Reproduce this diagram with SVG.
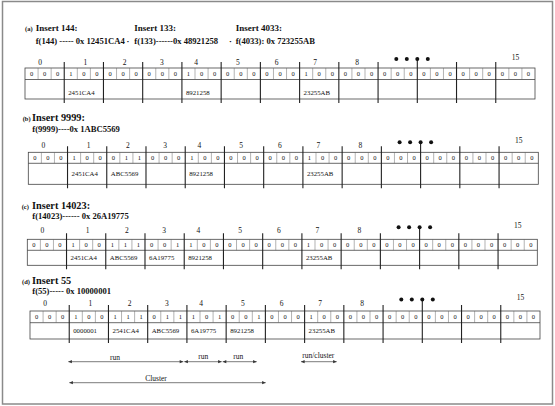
<svg xmlns="http://www.w3.org/2000/svg" width="555" height="406" viewBox="0 0 555 406">
<style>
text{font-family:"Liberation Serif","Times New Roman",serif;fill:#111}
.tag{font-size:6.5px;font-weight:bold}
.hd{font-size:9px;font-weight:bold}
.hd2{font-size:10.3px;font-weight:bold}
.fl{font-size:8.6px;font-weight:bold}
.d text{font-size:6.5px;text-anchor:middle}
.n{font-size:6.8px}
.l{font-size:7.5px;text-anchor:middle}
.box{fill:none;stroke:#444;stroke-width:0.8}
.thin{fill:none;stroke:#666;stroke-width:0.5}
.grp{fill:none;stroke:#222;stroke-width:1.1}
.dot{fill:#111}
.arr{fill:none;stroke:#444;stroke-width:0.7;marker-start:url(#ah);marker-end:url(#ah)}
</style>
<defs>
<marker id="ah" viewBox="0 0 10 10" refX="10" refY="5" markerWidth="5" markerHeight="3.6" orient="auto-start-reverse" markerUnits="userSpaceOnUse"><path d="M0,0.5 L10,5 L0,9.5 z" fill="#333"/></marker>
</defs>
<rect x="2.5" y="1.5" width="550" height="402.5" fill="#fff" stroke="#8a8a8a" stroke-width="1.5"/>

<g id="panel-a">
<text class="tag" x="25" y="31">(a)</text>
<text class="hd" x="35.7" y="31">Insert 144:</text>
<text class="hd" x="134.3" y="31">Insert 133:</text>
<text class="hd" x="235.7" y="31">Insert 4033:</text>
<text class="fl" x="35.7" y="43.5">f(144) ----- 0x 12451CA4</text>
<text class="fl" x="126.5" y="43.5">·</text>
<text class="fl" x="134.3" y="43.5">f(133)------0x 48921258</text>
<text class="fl" x="229" y="43.5">·</text>
<text class="fl" x="235.7" y="43.5">f(4033): 0x 723255AB</text>
<g id="table-a" transform="translate(25,68)">
<rect class="box" x="0" y="0" width="510" height="31"/>
<path class="box" d="M0 11.5H510"/>
<path class="thin" d="M13.08 0V11.5M26.15 0V11.5M52.31 0V11.5M65.38 0V11.5M91.54 0V11.5M104.62 0V11.5M130.77 0V11.5M143.85 0V11.5M170 0V11.5M183.08 0V11.5M209.23 0V11.5M222.31 0V11.5M248.46 0V11.5M261.54 0V11.5M287.69 0V11.5M300.77 0V11.5M326.92 0V11.5M340 0V11.5M366.15 0V11.5M379.23 0V11.5M405.38 0V11.5M418.46 0V11.5M444.62 0V11.5M457.69 0V11.5M483.85 0V11.5M496.92 0V11.5"/>
<path class="grp" d="M39.23 -6V35M78.46 -6V35M117.69 -6V35M156.92 -6V35M196.15 -6V35M235.38 -6V35M274.61 -6V35M313.84 -6V35M353.07 -6V35M392.3 -9V35M431.53 -6V35M470.76 -6V35"/>
<g class="l"><text x="15" y="-3">0</text><text x="60.3" y="-3">1</text><text x="99.6" y="-3">2</text><text x="136.8" y="-3">3</text><text x="171" y="-3">4</text><text x="212.8" y="-3">5</text><text x="251.5" y="-3">6</text><text x="290.2" y="-3">7</text><text x="332.2" y="-3">8</text><text x="490.4" y="-8.5">15</text></g>
<g class="dot"><circle cx="371.3" cy="-9" r="2"/><circle cx="381.8" cy="-9" r="2"/><circle cx="392.3" cy="-9" r="2"/><circle cx="402.8" cy="-9" r="2"/></g>
<g class="d" transform="translate(0,8.1)"><text x="6.54">0</text><text x="19.62">0</text><text x="32.69">0</text><text x="45.77">1</text><text x="58.85">0</text><text x="71.92">0</text><text x="85">0</text><text x="98.08">0</text><text x="111.15">0</text><text x="124.23">0</text><text x="137.31">0</text><text x="150.38">0</text><text x="163.46">1</text><text x="176.54">0</text><text x="189.62">0</text><text x="202.69">0</text><text x="215.77">0</text><text x="228.85">0</text><text x="241.92">0</text><text x="255">0</text><text x="268.08">0</text><text x="281.15">1</text><text x="294.23">0</text><text x="307.31">0</text><text x="320.38">0</text><text x="333.46">0</text><text x="346.54">0</text><text x="359.62">0</text><text x="372.69">0</text><text x="385.77">0</text><text x="398.85">0</text><text x="411.92">0</text><text x="425">0</text><text x="438.08">0</text><text x="451.15">0</text><text x="464.23">0</text><text x="477.31">0</text><text x="490.38">0</text><text x="503.46">0</text></g>
<text class="n" x="43.2" y="27">2451CA4</text>
<text class="n" x="160.9" y="27">8921258</text>
<text class="n" x="278.6" y="27">23255AB</text>
</g>
</g>

<g id="panel-b">
<text class="tag" x="22.7" y="121">(b)</text>
<text class="hd2" x="32" y="121">Insert 9999:</text>
<text class="fl" x="32.3" y="131.5">f(9999)----0x 1ABC5569</text>
<g id="table-b" transform="translate(28.3,152.3)">
<rect class="box" x="0" y="0" width="510" height="32"/>
<path class="box" d="M0 11H510"/>
<path class="thin" d="M13.08 0V11M26.15 0V11M52.31 0V11M65.38 0V11M91.54 0V11M104.62 0V11M130.77 0V11M143.85 0V11M170 0V11M183.08 0V11M209.23 0V11M222.31 0V11M248.46 0V11M261.54 0V11M287.69 0V11M300.77 0V11M326.92 0V11M340 0V11M366.15 0V11M379.23 0V11M405.38 0V11M418.46 0V11M444.62 0V11M457.69 0V11M483.85 0V11M496.92 0V11"/>
<path class="grp" d="M39.23 -6V36M78.46 -6V36M117.69 -6V36M156.92 -6V36M196.15 -6V36M235.38 -6V36M274.61 -6V36M313.84 -6V36M353.07 -6V36M392.3 -10V36M431.53 -6V36M470.76 -6V36"/>
<g class="l"><text x="15" y="-4">0</text><text x="60.3" y="-4">1</text><text x="99.6" y="-4">2</text><text x="136.8" y="-4">3</text><text x="171" y="-4">4</text><text x="212.8" y="-4">5</text><text x="251.5" y="-4">6</text><text x="290.2" y="-4">7</text><text x="332.2" y="-4">8</text><text x="490.4" y="-9.5">15</text></g>
<g class="dot"><circle cx="371.3" cy="-10" r="2"/><circle cx="381.8" cy="-10" r="2"/><circle cx="392.3" cy="-10" r="2"/><circle cx="402.8" cy="-10" r="2"/></g>
<g class="d" transform="translate(0,7.8)"><text x="6.54">0</text><text x="19.62">0</text><text x="32.69">0</text><text x="45.77">1</text><text x="58.85">0</text><text x="71.92">0</text><text x="85">0</text><text x="98.08">1</text><text x="111.15">1</text><text x="124.23">0</text><text x="137.31">0</text><text x="150.38">0</text><text x="163.46">1</text><text x="176.54">0</text><text x="189.62">0</text><text x="202.69">0</text><text x="215.77">0</text><text x="228.85">0</text><text x="241.92">0</text><text x="255">0</text><text x="268.08">0</text><text x="281.15">1</text><text x="294.23">0</text><text x="307.31">0</text><text x="320.38">0</text><text x="333.46">0</text><text x="346.54">0</text><text x="359.62">0</text><text x="372.69">0</text><text x="385.77">0</text><text x="398.85">0</text><text x="411.92">0</text><text x="425">0</text><text x="438.08">0</text><text x="451.15">0</text><text x="464.23">0</text><text x="477.31">0</text><text x="490.38">0</text><text x="503.46">0</text></g>
<text class="n" x="43.2" y="24">2451CA4</text>
<text class="n" x="82.5" y="24">ABC5569</text>
<text class="n" x="160.9" y="24">8921258</text>
<text class="n" x="278.6" y="24">23255AB</text>
</g>
</g>

<g id="panel-c">
<text class="tag" x="21.7" y="208.5">(c)</text>
<text class="hd2" x="32" y="208.5">Insert 14023:</text>
<text class="fl" x="32.3" y="219">f(14023)------ 0x 26A19775</text>
<g id="table-c" transform="translate(27.3,239.3)">
<rect class="box" x="0" y="0" width="510" height="26"/>
<path class="box" d="M0 11H510"/>
<path class="thin" d="M13.08 0V11M26.15 0V11M52.31 0V11M65.38 0V11M91.54 0V11M104.62 0V11M130.77 0V11M143.85 0V11M170 0V11M183.08 0V11M209.23 0V11M222.31 0V11M248.46 0V11M261.54 0V11M287.69 0V11M300.77 0V11M326.92 0V11M340 0V11M366.15 0V11M379.23 0V11M405.38 0V11M418.46 0V11M444.62 0V11M457.69 0V11M483.85 0V11M496.92 0V11"/>
<path class="grp" d="M39.23 -6V30M78.46 -6V30M117.69 -6V30M156.92 -6V30M196.15 -6V30M235.38 -6V30M274.61 -6V30M313.84 -6V30M353.07 -6V30M392.3 -12V30M431.53 -6V30M470.76 -6V30"/>
<g class="l"><text x="15" y="-6">0</text><text x="60.3" y="-6">1</text><text x="99.6" y="-6">2</text><text x="136.8" y="-6">3</text><text x="171" y="-6">4</text><text x="212.8" y="-6">5</text><text x="251.5" y="-6">6</text><text x="290.2" y="-6">7</text><text x="332.2" y="-6">8</text><text x="490.4" y="-11.5">15</text></g>
<g class="dot"><circle cx="371.3" cy="-12" r="2"/><circle cx="381.8" cy="-12" r="2"/><circle cx="392.3" cy="-12" r="2"/><circle cx="402.8" cy="-12" r="2"/></g>
<g class="d" transform="translate(0,7.8)"><text x="6.54">0</text><text x="19.62">0</text><text x="32.69">0</text><text x="45.77">1</text><text x="58.85">0</text><text x="71.92">0</text><text x="85">1</text><text x="98.08">1</text><text x="111.15">1</text><text x="124.23">0</text><text x="137.31">0</text><text x="150.38">1</text><text x="163.46">1</text><text x="176.54">0</text><text x="189.62">0</text><text x="202.69">0</text><text x="215.77">0</text><text x="228.85">0</text><text x="241.92">0</text><text x="255">0</text><text x="268.08">0</text><text x="281.15">1</text><text x="294.23">0</text><text x="307.31">0</text><text x="320.38">0</text><text x="333.46">0</text><text x="346.54">0</text><text x="359.62">0</text><text x="372.69">0</text><text x="385.77">0</text><text x="398.85">0</text><text x="411.92">0</text><text x="425">0</text><text x="438.08">0</text><text x="451.15">0</text><text x="464.23">0</text><text x="477.31">0</text><text x="490.38">0</text><text x="503.46">0</text></g>
<text class="n" x="43.2" y="21">2451CA4</text>
<text class="n" x="82.5" y="21">ABC5569</text>
<text class="n" x="121.7" y="21">6A19775</text>
<text class="n" x="160.9" y="21">8921258</text>
<text class="n" x="278.6" y="21">23255AB</text>
</g>
</g>

<g id="panel-d">
<text class="tag" x="22" y="283.5">(d)</text>
<text class="hd2" x="32" y="283.5">Insert 55</text>
<text class="fl" x="32.3" y="294">f(55)----- 0x 10000001</text>
<g id="table-d" transform="translate(30,311)">
<rect class="box" x="0" y="0" width="510" height="28"/>
<path class="box" d="M0 11.7H510"/>
<path class="thin" d="M13.08 0V11.7M26.15 0V11.7M52.31 0V11.7M65.38 0V11.7M91.54 0V11.7M104.62 0V11.7M130.77 0V11.7M143.85 0V11.7M170 0V11.7M183.08 0V11.7M209.23 0V11.7M222.31 0V11.7M248.46 0V11.7M261.54 0V11.7M287.69 0V11.7M300.77 0V11.7M326.92 0V11.7M340 0V11.7M366.15 0V11.7M379.23 0V11.7M405.38 0V11.7M418.46 0V11.7M444.62 0V11.7M457.69 0V11.7M483.85 0V11.7M496.92 0V11.7"/>
<path class="grp" d="M39.23 -6V32M78.46 -6V32M117.69 -6V32M156.92 -6V32M196.15 -6V32M235.38 -6V32M274.61 -6V32M313.84 -6V32M353.07 -6V32M392.3 -11V32M431.53 -6V32M470.76 -6V32"/>
<g class="l"><text x="15" y="-5.5">0</text><text x="60.3" y="-5.5">1</text><text x="99.6" y="-5.5">2</text><text x="136.8" y="-5.5">3</text><text x="171" y="-5.5">4</text><text x="212.8" y="-5.5">5</text><text x="251.5" y="-5.5">6</text><text x="290.2" y="-5.5">7</text><text x="332.2" y="-5.5">8</text><text x="490.4" y="-11">15</text></g>
<g class="dot"><circle cx="371.3" cy="-11.5" r="2"/><circle cx="381.8" cy="-11.5" r="2"/><circle cx="392.3" cy="-11.5" r="2"/><circle cx="402.8" cy="-11.5" r="2"/></g>
<g class="d" transform="translate(0,8.2)"><text x="6.54">0</text><text x="19.62">0</text><text x="32.69">0</text><text x="45.77">1</text><text x="58.85">0</text><text x="71.92">0</text><text x="85">1</text><text x="98.08">1</text><text x="111.15">1</text><text x="124.23">0</text><text x="137.31">1</text><text x="150.38">1</text><text x="163.46">1</text><text x="176.54">0</text><text x="189.62">1</text><text x="202.69">0</text><text x="215.77">0</text><text x="228.85">1</text><text x="241.92">0</text><text x="255">0</text><text x="268.08">0</text><text x="281.15">1</text><text x="294.23">0</text><text x="307.31">0</text><text x="320.38">0</text><text x="333.46">0</text><text x="346.54">0</text><text x="359.62">0</text><text x="372.69">0</text><text x="385.77">0</text><text x="398.85">0</text><text x="411.92">0</text><text x="425">0</text><text x="438.08">0</text><text x="451.15">0</text><text x="464.23">0</text><text x="477.31">0</text><text x="490.38">0</text><text x="503.46">0</text></g>
<text class="n" x="43.2" y="22.4">0000001</text>
<text class="n" x="82.5" y="22.4">2541CA4</text>
<text class="n" x="121.7" y="22.4">ABC5569</text>
<text class="n" x="160.9" y="22.4">6A19775</text>
<text class="n" x="200.2" y="22.4">8921258</text>
<text class="n" x="278.6" y="22.4">23255AB</text>
</g>
</g>

<g id="connectors">
<path class="arr" d="M68.3 361.7H183.3"/>
<path class="arr" d="M184.3 361.7H221.7"/>
<path class="arr" d="M222.7 361.7H256.7"/>
<path class="arr" d="M69.3 382.7H265.7"/>
<path class="arr" d="M301 361.7H336.7"/>
<text class="l" x="115" y="360">run</text>
<text class="l" x="203.3" y="358.5">run</text>
<text class="l" x="238.3" y="358.5">run</text>
<text class="l" x="156" y="380.5">Cluster</text>
<text class="l" x="318.3" y="357.5">run/cluster</text>
</g>
</svg>
